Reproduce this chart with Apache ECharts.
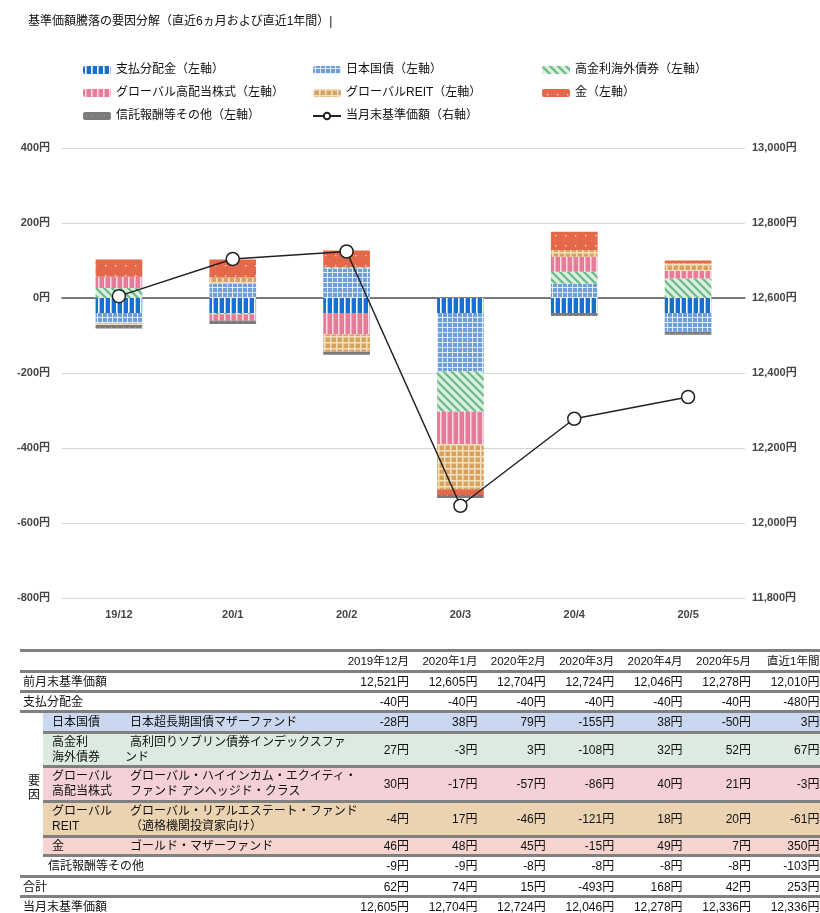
<!DOCTYPE html>
<html><head><meta charset="utf-8">
<script src="https://cdn.jsdelivr.net/npm/echarts@6/dist/echarts.min.js"></script>
<style>
html,body{margin:0;padding:0;background:#fff;}
body{font-family:"Liberation Sans","Noto Sans CJK JP",sans-serif;}
#chart{position:absolute;left:0;top:0;width:820px;height:913px;}
#tbl{position:absolute;left:0;top:0;width:820px;height:913px;pointer-events:none;font-size:12px;color:#111;}
#tbl div{position:absolute;white-space:nowrap;}
</style></head>
<body>
<div id="chart"></div>
<div id="tbl"></div>
<script>
// ---- data ----
const categories = ['19/12','20/1','20/2','20/3','20/4','20/5'];
const tableMonths = ['2019年12月','2020年1月','2020年2月','2020年3月','2020年4月','2020年5月','直近1年間'];
const prevNav = [12521,12605,12704,12724,12046,12278,12010];
const distribution = [-40,-40,-40,-40,-40,-40,-480];
const jgb = [-28,38,79,-155,38,-50,3];
const highYield = [27,-3,3,-108,32,52,67];
const equity = [30,-17,-57,-86,40,21,-3];
const reit = [-4,17,-46,-121,18,20,-61];
const gold = [46,48,45,-15,49,7,350];
const fees = [-9,-9,-8,-8,-8,-8,-103];
const total = [62,74,15,-493,168,42,253];
const nav = [12605,12704,12724,12046,12278,12336,12336];
const leftTicks = {min:-800,max:400,interval:200};
const rightTicks = {min:11800,max:13000,interval:200};

// ---- patterns ----
function pat(w,h,draw){const c=document.createElement('canvas');c.width=w;c.height=h;const g=c.getContext('2d');draw(g,w,h);return {image:c,repeat:'repeat'};}
const pDist = pat(6,6,(g)=>{g.fillStyle='#1a6fcc';g.fillRect(0,0,6,6);g.fillStyle='#ffffff';g.fillRect(2,0,1.6,6);});
const pJgb = pat(5,5,(g)=>{g.fillStyle='#6e9fdc';g.fillRect(0,0,5,5);g.fillStyle='rgba(255,255,255,0.8)';g.fillRect(2,0,1,5);g.fillRect(0,2,5,1);});
const pHy = pat(8,8,(g)=>{g.fillStyle='#d9eedf';g.fillRect(0,0,8,8);g.strokeStyle='#6cb886';g.lineWidth=2.2;g.beginPath();g.moveTo(-2,-2);g.lineTo(10,10);g.moveTo(-2,6);g.lineTo(2,10);g.moveTo(6,-2);g.lineTo(10,2);g.stroke();});
const pEq = pat(6,6,(g)=>{g.fillStyle='#e87b97';g.fillRect(0,0,6,6);g.fillStyle='rgba(255,235,240,0.9)';g.fillRect(2,0,1.5,6);});
const pReit = pat(6,6,(g)=>{g.fillStyle='#d6a25f';g.fillRect(0,0,6,6);g.fillStyle='#f3dfbf';g.fillRect(0,0,1.5,6);g.fillRect(0,0,6,1.5);});
const pGold = pat(10,10,(g)=>{g.fillStyle='#e4694a';g.fillRect(0,0,10,10);g.fillStyle='rgba(255,235,225,0.95)';g.fillRect(5,5,1.3,1.3);});
const pFee = pat(6,6,(g)=>{g.fillStyle='#7b7b7b';g.fillRect(0,0,6,6);g.fillStyle='#a8a8a8';g.fillRect(3,3,1,1);});

const FONT = '"Liberation Sans","Noto Sans CJK JP",sans-serif';
const names = ['支払分配金（左軸）','日本国債（左軸）','高金利海外債券（左軸）','グローバル高配当株式（左軸）','グローバルREIT（左軸）','金（左軸）','信託報酬等その他（左軸）','当月末基準価額（右軸）'];
const barData = [distribution,jgb,highYield,equity,reit,gold,fees];
const barColors = [pDist,pJgb,pHy,pEq,pReit,pGold,pFee];

const series = barData.map((d,i)=>({
  name:names[i], type:'bar', stack:'s', barWidth:'41%', xAxisIndex:0, yAxisIndex:0,
  data:d.slice(0,6), itemStyle:{color:barColors[i]}
}));
series.push({
  name:names[7], type:'line', xAxisIndex:0, yAxisIndex:1, data:nav.slice(0,6), z:10,
  symbol:'circle', symbolSize:13, lineStyle:{color:'#222',width:1.5},
  itemStyle:{color:'#fff',borderColor:'#222',borderWidth:1.5}
});

const legendBase = {orient:'vertical', itemWidth:28, itemHeight:8, itemGap:11,
  textStyle:{fontSize:12,color:'#111',fontFamily:FONT}, selectedMode:false};

const chart = echarts.init(document.getElementById('chart'));
chart.setOption({
  animation:false,
  textStyle:{fontFamily:FONT},
  title:{text:'基準価額騰落の要因分解（直近6ヵ月および直近1年間）|', left:23, top:11,
    textStyle:{fontSize:12,fontWeight:'normal',color:'#111',fontFamily:FONT}},
  legend:[
    Object.assign({left:78, top:59, data:[names[0],names[3],names[6]]},legendBase),
    Object.assign({left:307, top:59, data:[names[1],names[4],names[7]]},legendBase),
    Object.assign({left:537, top:59, data:[names[2],names[5]]},legendBase)
  ],
  grid:{left:62, right:75, top:148, bottom:315},
  xAxis:[
    {type:'category', data:categories, axisLine:{onZero:true, lineStyle:{color:'#555',width:1.5}},
     axisTick:{show:false}, axisLabel:{show:false}},
    {type:'category', data:categories, position:'bottom', axisLine:{show:false}, axisTick:{show:false},
     axisLabel:{margin:11, fontSize:11, fontWeight:'bold', color:'#444'}}
  ],
  yAxis:[
    {type:'value', min:leftTicks.min, max:leftTicks.max, interval:leftTicks.interval,
     axisLine:{show:false}, axisTick:{show:false},
     splitLine:{lineStyle:{color:'#d6d6d6',width:1}},
     axisLabel:{margin:12, fontSize:11, fontWeight:'bold', color:'#444', formatter:v=>v+'円'}},
    {type:'value', min:rightTicks.min, max:rightTicks.max, interval:rightTicks.interval,
     axisLine:{show:false}, axisTick:{show:false}, splitLine:{show:false},
     axisLabel:{margin:7, fontSize:11, fontWeight:'bold', color:'#444', formatter:v=>v.toLocaleString('en-US')+'円'}}
  ],
  series:series
});

// ---- table ----
const T = document.getElementById('tbl');
function el(x,y,w,h,html,style){const d=document.createElement('div');d.style.left=x+'px';d.style.top=y+'px';if(w!=null)d.style.width=w+'px';if(h!=null)d.style.height=h+'px';d.innerHTML=html||'';if(style)Object.assign(d.style,style);T.appendChild(d);return d;}
const fmt = v=>v.toLocaleString('en-US')+'円';
const colRight = i=>409+i*68.4;
const rows = [
  {y:671,h:20,label:'前月末基準価額',lx:23,vals:prevNav,line:20},
  {y:691,h:20,label:'支払分配金',lx:23,vals:distribution,line:20},
  {y:711,h:21,cat:'日本国債',fund:'日本超長期国債マザーファンド',vals:jgb,bg:'#c9d8ee',line:20},
  {y:732,h:34,cat:'高金利<br>海外債券',fund:'高利回りソブリン債券インデックスファ<br><span style="margin-left:-5px">ンド</span>',vals:highYield,bg:'#dcebe0',line:43},
  {y:766,h:35,cat:'グローバル<br>高配当株式',fund:'グローバル・ハイインカム・エクイティ・<br>ファンド アンヘッジド・クラス',vals:equity,bg:'#f5d0d9',line:43},
  {y:801,h:35,cat:'グローバル<br>REIT',fund:'グローバル・リアルエステート・ファンド<br>（適格機関投資家向け）',vals:reit,bg:'#ebd3b1',line:43},
  {y:836,h:19,cat:'金',fund:'ゴールド・マザーファンド',vals:gold,bg:'#f7d4d0',line:43},
  {y:855,h:21,label:'信託報酬等その他',lx:48,vals:fees,line:43},
  {y:876,h:20,label:'合計',lx:23,vals:total,line:20},
  {y:896,h:20,label:'当月末基準価額',lx:23,vals:nav,line:20}
];
// header
el(20,649,800,3,'',{background:'#808080'});
tableMonths.forEach((m,i)=>{el(colRight(i)-68,650,68,21,m,{textAlign:'right',lineHeight:'22px',fontSize:'11.5px'});});
rows.forEach(r=>{
  if(r.bg) el(43,r.y,777,r.h,'',{background:r.bg});
  el(r.line,r.y-1,820-r.line,3,'',{background:'#808080'});
  const lh = r.h>30?'15px':(r.h+'px');
  const ty = r.h>30? r.y+3 : r.y+1;
  if(r.label) el(r.lx,r.y+1,null,r.h,r.label,{lineHeight:r.h+'px'});
  if(r.cat){el(52,ty,null,null,r.cat,{lineHeight:lh});el(130,ty,null,null,r.fund,{lineHeight:lh});}
  r.vals.forEach((v,i)=>{el(colRight(i)-68,r.y+1,68,r.h,fmt(v),{textAlign:'right',lineHeight:r.h+'px'});});
});
el(28,774,14,40,'要<br>因',{lineHeight:'14px',fontSize:'12px'});
</script>
</body></html>
